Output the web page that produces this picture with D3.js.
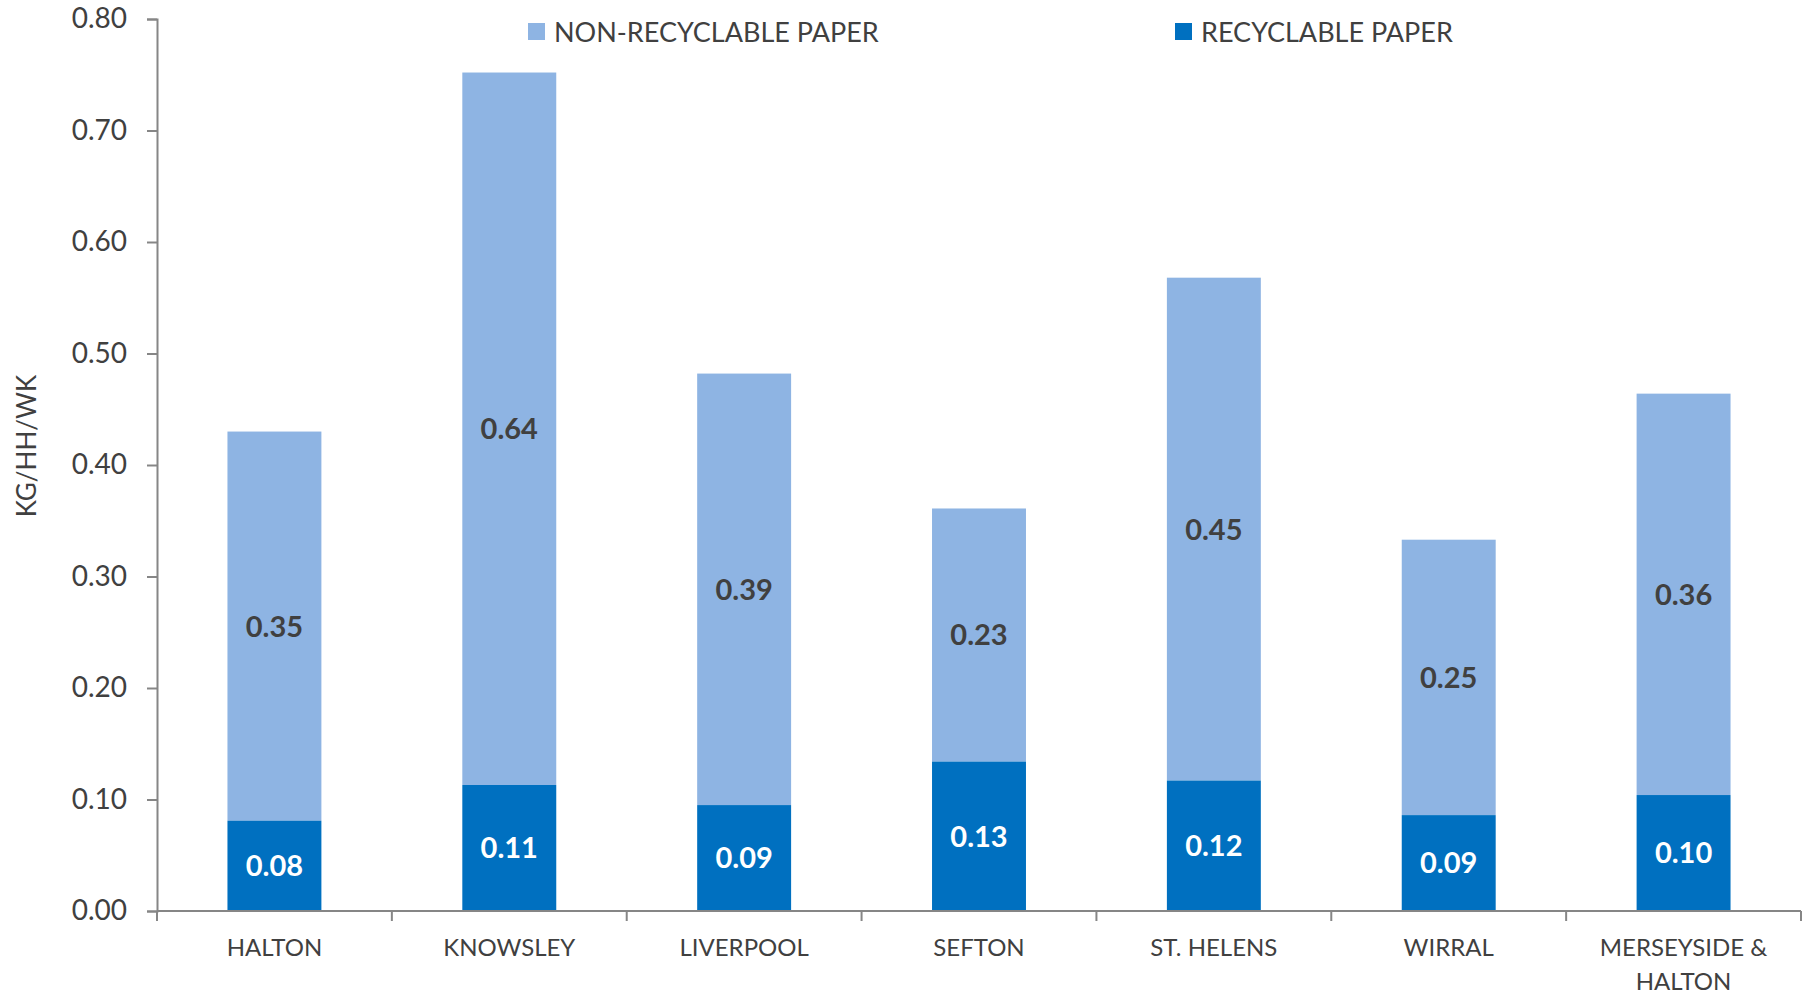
<!DOCTYPE html>
<html>
<head>
<meta charset="utf-8">
<script src="https://cdn.jsdelivr.net/npm/d3@7"></script>
<style>
  body { margin: 0; background: #fff; }
  svg text { font-family: Lato, "Open Sans", sans-serif; fill: #404040; }
</style>
</head>
<body>
<svg id="chart" width="1807" height="996"></svg>
<script>

var categories = ["HALTON", "KNOWSLEY", "LIVERPOOL", "SEFTON", "ST. HELENS", "WIRRAL", "MERSEYSIDE & HALTON"];
var recyclable = [0.081, 0.113, 0.095, 0.134, 0.117, 0.086, 0.104];
var nonRecyclable = [0.349, 0.639, 0.387, 0.227, 0.451, 0.247, 0.360];
var recLabels = ["0.08", "0.11", "0.09", "0.13", "0.12", "0.09", "0.10"];
var nonLabels = ["0.35", "0.64", "0.39", "0.23", "0.45", "0.25", "0.36"];
var yTicks = [0, 0.1, 0.2, 0.3, 0.4, 0.5, 0.6, 0.7, 0.8];

var svg = d3.select("#chart");
var margin = {left: 157, right: 6, top: 19, bottom: 85};
var width = +svg.attr("width") - margin.left - margin.right;
var height = +svg.attr("height") - margin.top - margin.bottom;

var g = svg.append("g").attr("transform", "translate(" + margin.left + "," + margin.top + ")");

var x = d3.scaleBand().domain(categories).range([0, width]).paddingInner(0.6).paddingOuter(0.3);
var y = d3.scaleLinear().domain([0, 0.8]).range([height, 0]);

// y axis
var yAx = g.append("g")
    .call(d3.axisLeft(y).tickValues(yTicks).tickFormat(d3.format(".2f")).tickSize(10).tickPadding(20));
yAx.select(".domain").attr("stroke", "#868686").attr("stroke-width", 2);
yAx.selectAll(".tick line").attr("stroke", "#868686").attr("stroke-width", 2);
yAx.selectAll(".tick text").attr("font-size", "28px").style("fill", "#404040");

// stacked bars
var cats = g.selectAll(".cat").data(categories).enter().append("g")
    .attr("class", "cat")
    .attr("transform", function(d) { return "translate(" + x(d) + ",0)"; });

cats.append("rect")
    .attr("y", function(d, i) { return y(recyclable[i] + nonRecyclable[i]); })
    .attr("width", x.bandwidth())
    .attr("height", function(d, i) { return y(recyclable[i]) - y(recyclable[i] + nonRecyclable[i]); })
    .attr("fill", "#8EB4E3");

cats.append("rect")
    .attr("y", function(d, i) { return y(recyclable[i]); })
    .attr("width", x.bandwidth())
    .attr("height", function(d, i) { return height - y(recyclable[i]); })
    .attr("fill", "#0070C0");

cats.append("text")
    .attr("x", x.bandwidth() / 2)
    .attr("y", function(d, i) { return y(recyclable[i] + nonRecyclable[i] / 2); })
    .attr("dy", "0.36em")
    .attr("text-anchor", "middle")
    .attr("font-size", "29px")
    .attr("font-weight", "bold")
    .text(function(d, i) { return nonLabels[i]; });

cats.append("text")
    .attr("x", x.bandwidth() / 2)
    .attr("y", function(d, i) { return y(recyclable[i] / 2); })
    .attr("dy", "0.36em")
    .attr("text-anchor", "middle")
    .attr("font-size", "29px")
    .attr("font-weight", "bold")
    .style("fill", "#fff")
    .text(function(d, i) { return recLabels[i]; });

// x axis
var xAx = g.append("g").attr("transform", "translate(0," + height + ")");
xAx.append("line").attr("x1", 0).attr("x2", width).attr("stroke", "#868686").attr("stroke-width", 2);
xAx.selectAll(".xt").data(d3.range(categories.length + 1)).enter().append("line")
    .attr("x1", function(d) { return d * width / categories.length; })
    .attr("x2", function(d) { return d * width / categories.length; })
    .attr("y1", 0).attr("y2", 10)
    .attr("stroke", "#868686").attr("stroke-width", 2);

var catLines = {"MERSEYSIDE & HALTON": ["MERSEYSIDE &", "HALTON"]};
xAx.selectAll(".xl").data(categories).enter().append("text")
    .attr("x", function(d) { return x(d) + x.bandwidth() / 2; })
    .attr("y", 45)
    .attr("text-anchor", "middle")
    .attr("font-size", "24px")
    .each(function(d) {
        var lines = catLines[d] || [d];
        var t = d3.select(this);
        lines.forEach(function(l, k) {
            t.append("tspan").attr("x", x(d) + x.bandwidth() / 2).attr("dy", k === 0 ? 0 : 34).text(l);
        });
    });

// y axis title
svg.append("text")
    .attr("transform", "translate(36,446) rotate(-90)")
    .attr("text-anchor", "middle")
    .attr("font-size", "26px")
    .text("KG/HH/WK");

// legend
var legend = [
    {name: "NON-RECYCLABLE PAPER", color: "#8EB4E3", x: 528},
    {name: "RECYCLABLE PAPER", color: "#0070C0", x: 1175}
];
var lg = svg.selectAll(".lg").data(legend).enter().append("g")
    .attr("transform", function(d) { return "translate(" + d.x + ",23)"; });
lg.append("rect").attr("width", 17).attr("height", 17).attr("fill", function(d) { return d.color; });
lg.append("text").attr("x", 26).attr("y", 9).attr("dy", "0.36em")
    .attr("font-size", "27px")
    .text(function(d) { return d.name; });

</script>
</body>
</html>
